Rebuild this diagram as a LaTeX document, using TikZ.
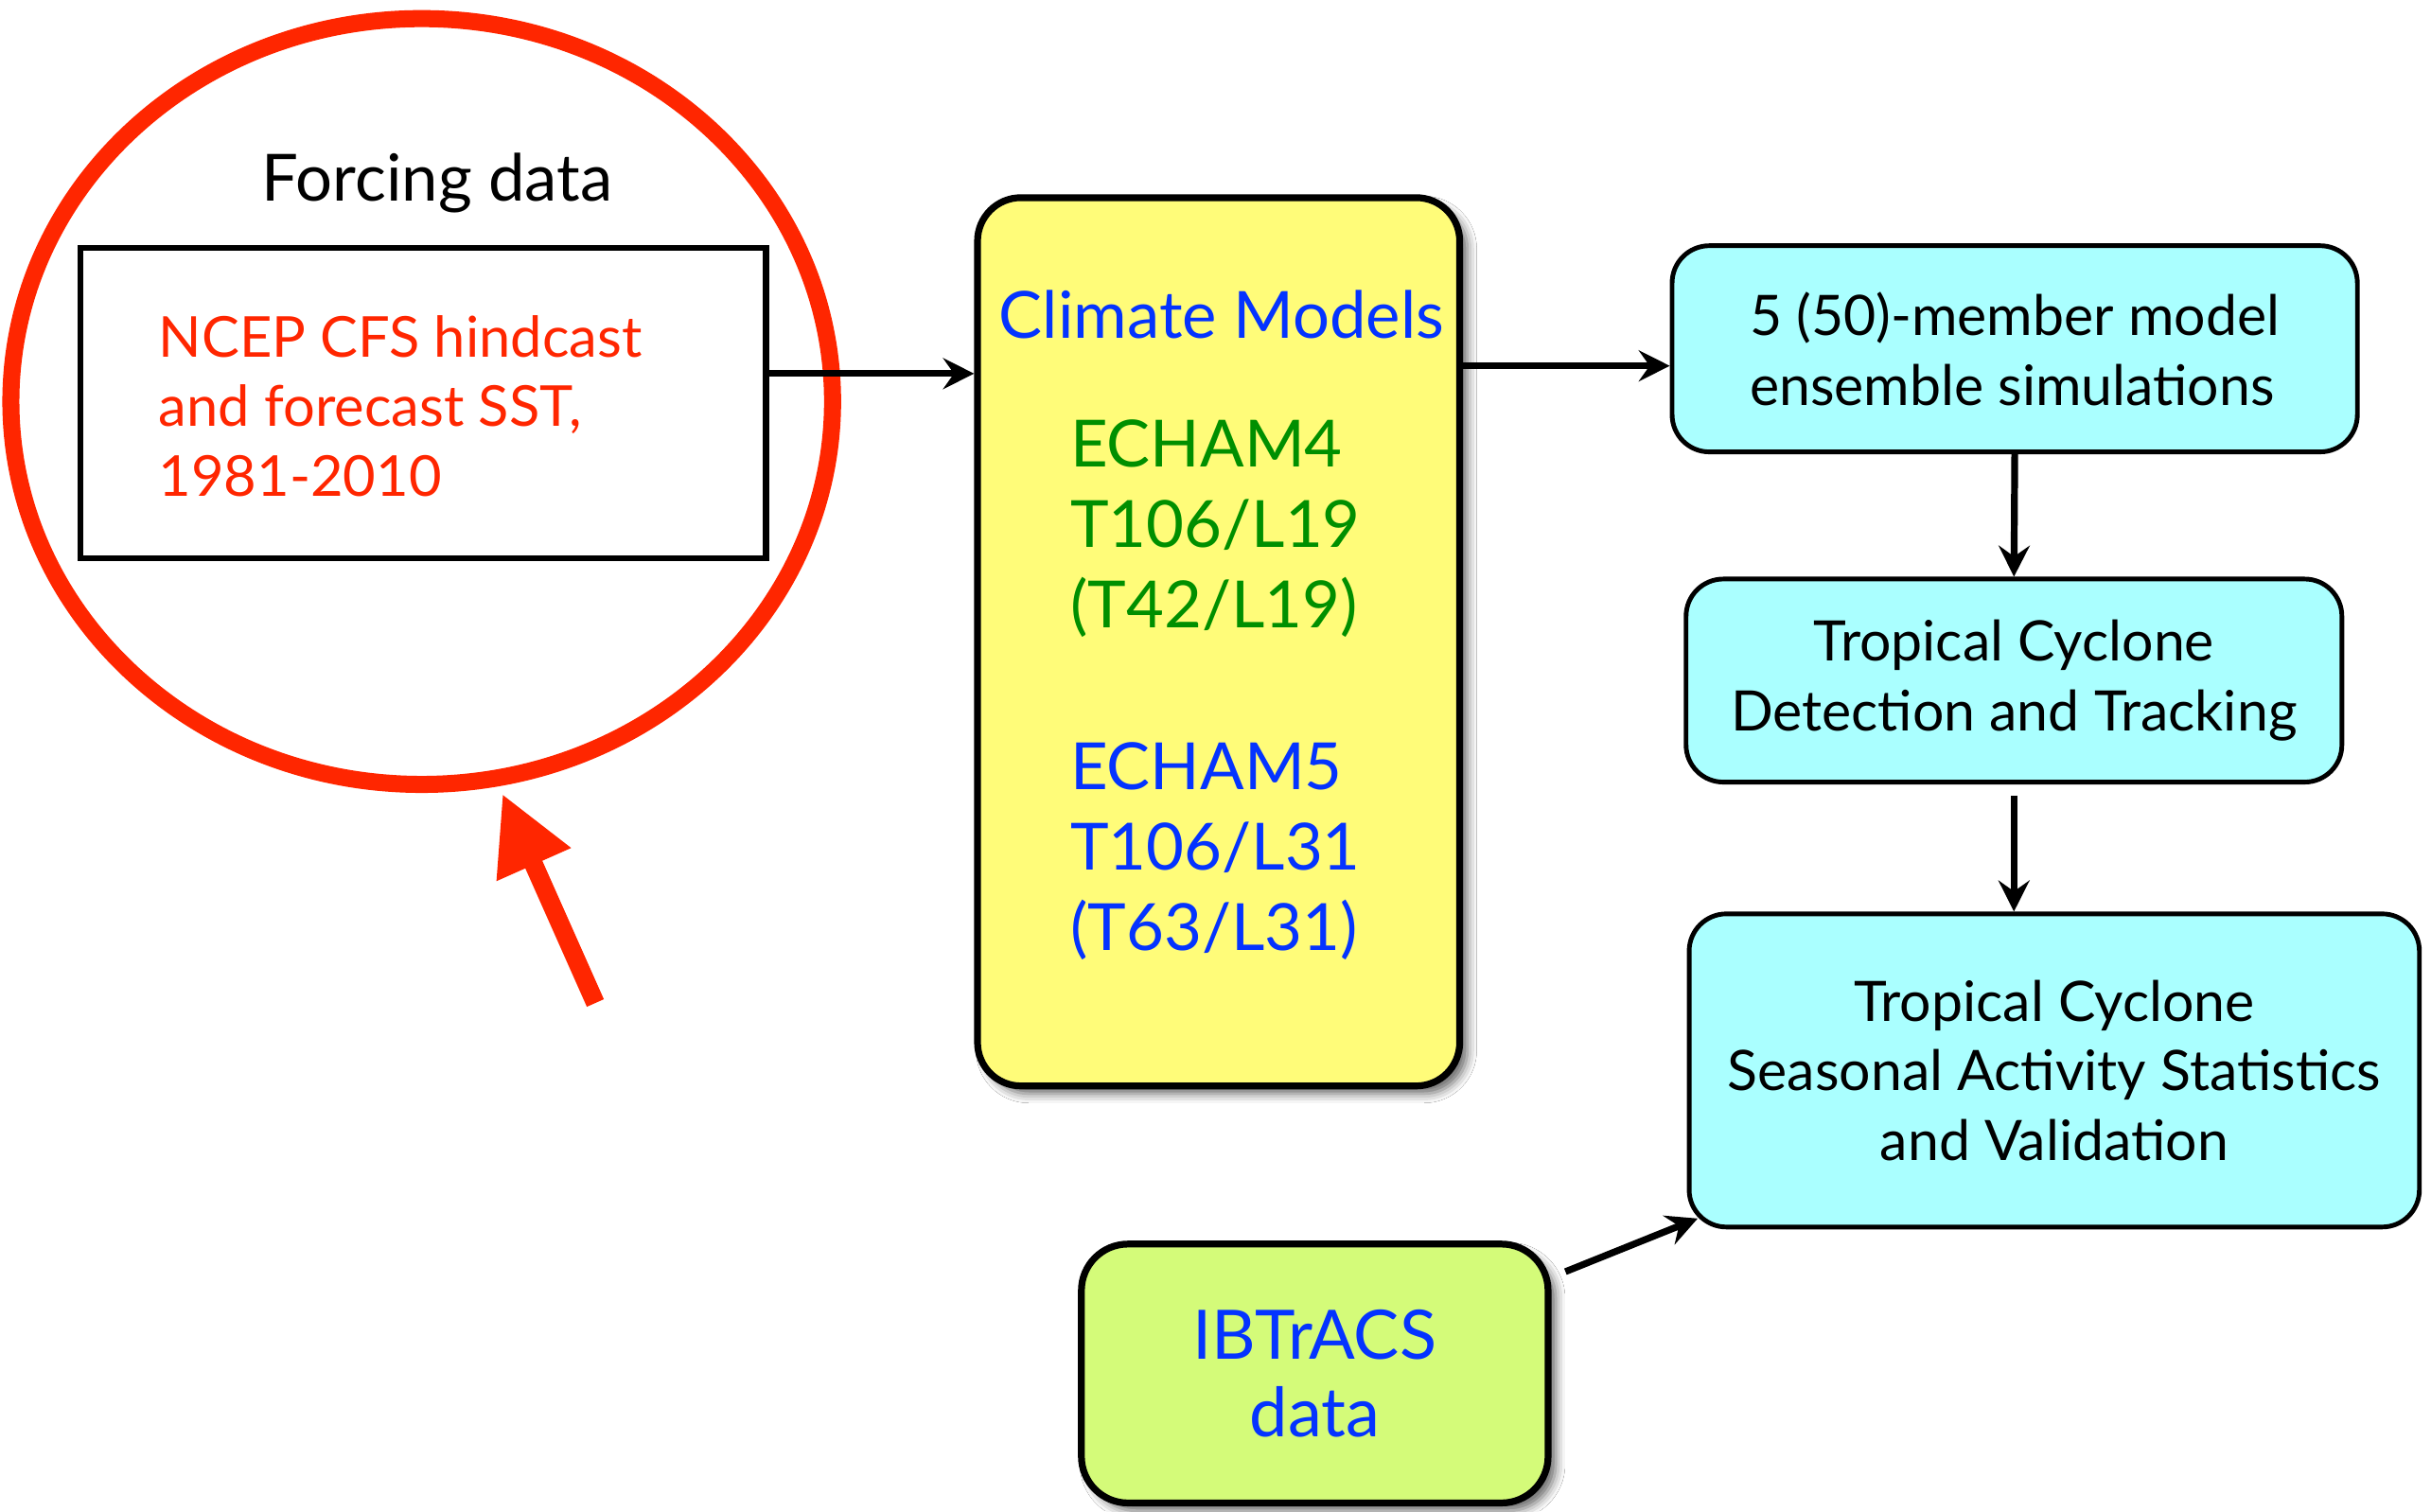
\documentclass[tikz,border=0pt]{standalone}
\usepackage{fontspec}
\setmainfont{Lato}
\usetikzlibrary{arrows.meta,shadows.blur,calc,shapes.geometric}
\definecolor{hlred}{RGB}{255,38,0}
\definecolor{txtblue}{RGB}{4,51,255}
\definecolor{txtgreen}{RGB}{0,143,0}
\definecolor{modelyellow}{RGB}{255,252,121}
\definecolor{boxcyan}{RGB}{170,255,255}
\definecolor{obslime}{RGB}{212,251,121}
\tikzset{
  conn/.style={line width=2.2pt, -{Stealth[length=10pt,width=10pt,inset=3.5pt]}},
  cyanbox/.style={draw, line width=1.5pt, rounded corners=12pt, fill=boxcyan,
    font=\fontsize{18}{22.5}\selectfont, inner sep=0pt},
  shadowed/.style={blur shadow={shadow xshift=2.5pt, shadow yshift=-2.5pt,
    shadow blur radius=3pt, shadow opacity=60}},
  bigtxt/.style={font=\fontsize{21}{26}\selectfont, inner sep=0pt},
}
\begin{document}
\begin{tikzpicture}[x=0.5pt,y=-0.5pt]
\fill[white] (0,0) rectangle (1568,975);
\useasboundingbox (0,0) rectangle (1568,975);

% highlight ellipse
\node[draw=hlred, line width=5.5pt, ellipse, minimum width=265pt, minimum height=247pt, inner sep=0pt] (focus) at (272,259) {};

% forcing data
\node[font=\fontsize{21}{25}\selectfont, anchor=base, inner sep=0pt] (forcinglbl) at (282,130) {Forcing data};
\node[draw, line width=2pt, minimum width=221pt, minimum height=100pt, inner sep=0pt] (forcing) at (273,260) {};
\node[anchor=west, align=left, text=hlred, font=\fontsize{18.2}{22.5}\selectfont, inner sep=0pt] (forcingtxt) at (102,262)
  {NCEP CFS hindcast\\and forecast SST,\\1981-2010};

% climate models
\node[draw, line width=2.2pt, rounded corners=14pt, fill=modelyellow, shadowed,
  minimum width=155.5pt, minimum height=286.5pt, inner sep=0pt] (climate) at (786,414) {};
\node[bigtxt, text=txtblue, anchor=base] (climatelbl) at (788,218) {Climate Models};
\node[bigtxt, text=txtgreen, anchor=west, align=left] (echam4) at (690,341) {ECHAM4\\T106/L19\\(T42/L19)};
\node[bigtxt, text=txtblue, anchor=west, align=left] (echam5) at (690,549) {ECHAM5\\T106/L31\\(T63/L31)};

% right column
\node[cyanbox, minimum width=221pt, minimum height=66.5pt, align=left] (ens) at (1299.5,225)
  {5 (50)-member model\\ensemble simulations};
\node[cyanbox, minimum width=211.5pt, minimum height=65.5pt, align=center] (track) at (1299,439)
  {Tropical Cyclone\\Detection and Tracking};
\node[cyanbox, minimum width=235.5pt, minimum height=101pt, align=center] (stats) at (1325,690.5)
  {Tropical Cyclone\\Seasonal Activity Statistics\\and Validation};

% observations
\node[draw, line width=2.2pt, rounded corners=15pt, fill=obslime, shadowed,
  minimum width=150.5pt, minimum height=83.5pt, inner sep=0pt, align=center,
  text=txtblue, font=\fontsize{22}{25}\selectfont] (ibt) at (848,886) {IBTrACS\\data};

% connectors
\draw[conn] (forcing.east |- 0,241) -- (climate.west |- 0,241);
\draw[conn] (climate.east |- 0,236) -- (ens.west |- 0,236);
\draw[conn] (ens.south) -- (track.north);
\draw[conn, shorten <=3.5pt] (track.south) -- (track.south |- stats.north);
\draw[conn] ($(ibt.north east)+(9,20)$) -- ($(stats.south west)+(7,-7)$);

% pointer arrow
\coordinate (redtail) at (384,647);
\coordinate (redtip) at (324,512);
\draw[hlred, line width=6pt, -{Triangle[length=25pt,width=24.5pt]}] (redtail) -- (redtip);
\end{tikzpicture}
\end{document}
